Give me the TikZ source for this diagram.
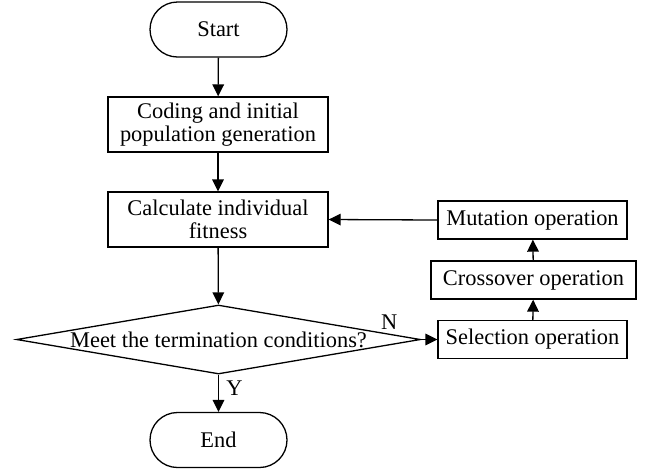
\documentclass[tikz,border=0pt]{standalone}
\usepackage{fontspec}
\setmainfont{Liberation Serif}
\usetikzlibrary{shapes.geometric,shapes.misc,arrows.meta}
\begin{document}
\begin{tikzpicture}[x=0.5pt,y=-0.5pt,
  every node/.style={font=\fontsize{11.2}{11.5}\selectfont},
  term/.style={draw, rounded rectangle, minimum width=68.5pt, minimum height=27.5pt, inner sep=0pt, line width=0.65pt},
  proc/.style={draw, rectangle, align=center, inner sep=0pt, line width=0.65pt},
  bigproc/.style={proc, minimum width=110pt, minimum height=27.5pt},
  opproc/.style={proc, minimum height=19pt},
  dec/.style={draw, diamond, aspect=5.85, inner sep=0pt, minimum width=202pt, minimum height=34.5pt, line width=0.65pt},
  arr/.style={-{Triangle[length=6pt,width=5.8pt]}, line width=0.65pt},
  lbl/.style={inner sep=0pt}]
\fill[white] (0,0) rectangle (646,468);
\useasboundingbox (0,0) rectangle (646,468);
\node[term] (start) at (218.5,29.5) {Start};
\node[bigproc] (code) at (218,124.5) {Coding and initial\\population generation};
\node[bigproc] (calc) at (218,219.5) {Calculate individual\\fitness};
\node[dec] (dec) at (218.5,339.5) {Meet the termination conditions?};
\node[term] (end) at (218.5,440) {End};
\node[opproc, minimum width=94.5pt] (mut) at (532.5,220) {Mutation operation};
\node[opproc, minimum width=102.5pt] (cross) at (533.5,280) {Crossover operation};
\node[opproc, minimum width=94.5pt] (sel) at (532.5,339.5) {Selection operation};
\draw[arr] (start) -- (code);
\draw[arr] (code) -- (calc);
\draw[arr] (calc) -- (dec);
\draw[arr] (dec.south) -- (end.north) node[lbl, pos=0.36, xshift=8pt] {Y};
\draw[arr] (dec.east) -- (sel.west) node[lbl, pos=0, xshift=-16pt, yshift=8.5pt] {N};
\draw[arr] (sel) -- (cross);
\draw[arr] (cross) -- (mut);
\draw[arr] (mut.west) -- (calc.east);
\end{tikzpicture}
\end{document}
